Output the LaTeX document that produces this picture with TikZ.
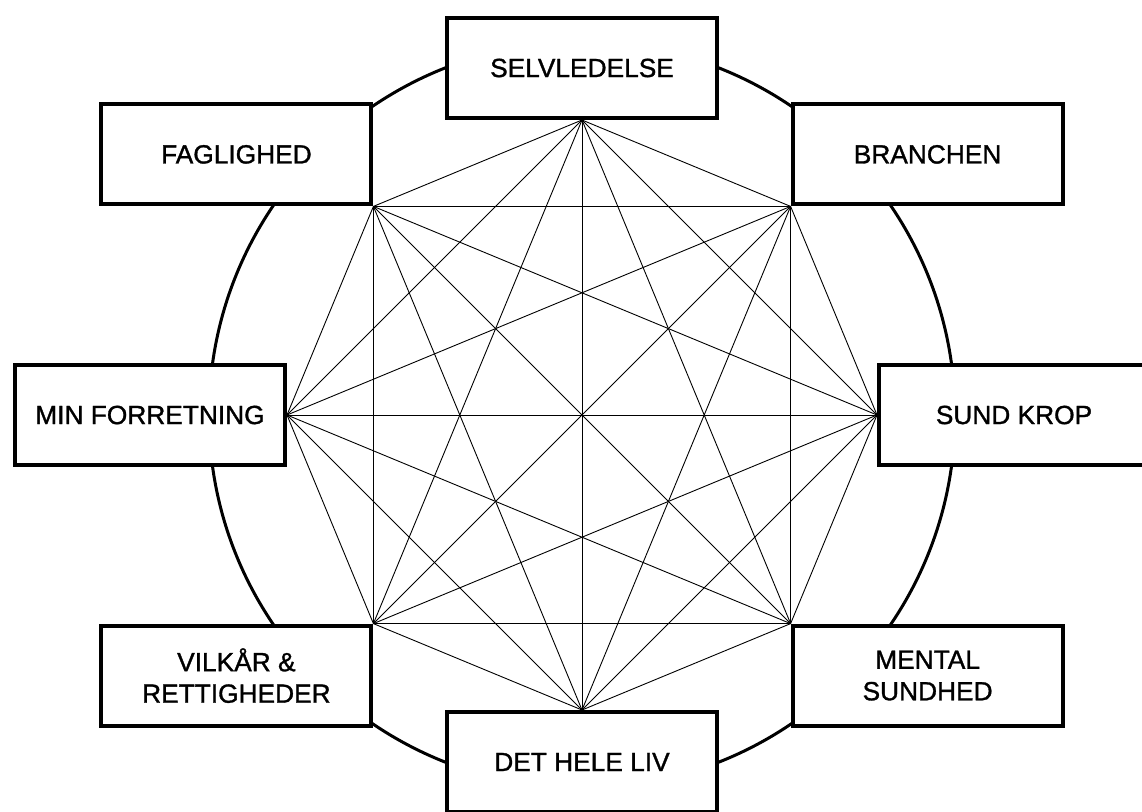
\documentclass[tikz,border=0pt]{standalone}
\usepackage{fontspec}
\setmainfont{Liberation Sans}
\newfontfamily\medfont{Liberation Sans}[FakeBold=1.2]
\begin{document}
\begin{tikzpicture}[x=1pt,y=-1pt,
  lbl/.style={draw, line width=4pt, fill=white, minimum width=270pt, minimum height=100pt,
    inner sep=0pt, align=center, font=\medfont\fontsize{26.3}{31.5}\selectfont},
  ring/.style={line width=3pt},
  web/.style={line width=0.9pt}]
\useasboundingbox (0,0) rectangle (1142,811);
\clip (0,0) rectangle (1142,811);
\coordinate (C) at (582,415);
\draw[ring] (C) circle[radius=373];
\coordinate (v0) at (582,120);
\coordinate (v1) at (790.6,206.4);
\coordinate (v2) at (877,415);
\coordinate (v3) at (790.6,623.6);
\coordinate (v4) at (582,710);
\coordinate (v5) at (373.4,623.6);
\coordinate (v6) at (287,415);
\coordinate (v7) at (373.4,206.4);
\foreach \i in {0,...,7}{\foreach \j in {0,...,7}{\ifnum\i<\j \draw[web] (v\i) -- (v\j);\fi}}
\node[lbl, anchor=south] (selv) at (v0) {SELVLEDELSE};
\node[lbl, anchor=south west] (bran) at (v1) {BRANCHEN};
\node[lbl, anchor=west] (sund) at (v2) {SUND KROP};
\node[lbl, anchor=north west] (ment) at (v3) {MENTAL\\SUNDHED};
\node[lbl, anchor=north] (liv) at (v4) {DET HELE LIV};
\node[lbl, anchor=north east] (vilk) at (v5) {VILKÅR \&\\RETTIGHEDER};
\node[lbl, anchor=east] (minf) at (v6) {MIN FORRETNING};
\node[lbl, anchor=south east] (fag) at (v7) {FAGLIGHED};
\end{tikzpicture}
\end{document}
